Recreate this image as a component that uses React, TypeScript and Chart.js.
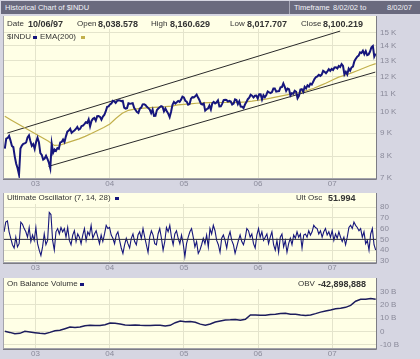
import React, { useEffect, useRef } from 'react';
import { Chart, registerables } from 'chart.js';
Chart.register(...registerables);

// ---------- DATA ----------
const YEAR_TICKS = [2003, 2004, 2005, 2006, 2007];
const YEAR_LABELS = ['03', '04', '05', '06', '07'];
const X_MIN = 2002.575;
const X_MAX = 2007.59;
const SERIES_START = 2002.586; // 8/02/02
const SERIES_END = 2007.586; // 8/02/07

// $INDU weekly closes
const PRICE_2002 = [8313, 8745, 8778, 8872, 8664, 8427, 8379, 7986, 7701, 7528, 7286, 8322, 8443, 8517, 8537, 8579, 8805, 8896, 8645, 8433, 8511, 8303];
const PRICE_2003 = [8601, 8785, 8586, 8131, 8054, 7864, 7908, 8018, 7891, 7740, 7524, 8522, 8145, 8277, 8221, 8338, 8306, 8582, 8604, 8713, 8601, 8850, 9062, 9117, 9201, 9011, 9070, 9119, 9188, 9284, 9153, 9191, 9321, 9348, 9415, 9503, 9471, 9644, 9313, 9573, 9674, 9721, 9582, 9801, 9810, 9768, 9628, 9782, 9862, 10042, 10278, 10305];
const PRICE_2004 = [10409, 10458, 10600, 10568, 10488, 10593, 10628, 10620, 10584, 10596, 10240, 10186, 10212, 10470, 10442, 10451, 10472, 10226, 10117, 10012, 9967, 10188, 10242, 10410, 10416, 10371, 10282, 10213, 10140, 9962, 10139, 9815, 9825, 10110, 10195, 10260, 10314, 10284, 10047, 10192, 10055, 9933, 9757, 10027, 10387, 10540, 10456, 10522, 10592, 10543, 10661, 10828, 10783];
const PRICE_2005 = [10603, 10558, 10392, 10427, 10716, 10796, 10785, 10841, 10940, 10774, 10629, 10442, 10404, 10461, 10087, 10157, 10193, 10345, 10140, 10471, 10542, 10460, 10512, 10623, 10297, 10303, 10449, 10640, 10651, 10641, 10558, 10600, 10559, 10397, 10447, 10679, 10641, 10420, 10569, 10292, 10287, 10215, 10402, 10530, 10686, 10766, 10931, 10877, 10778, 10875, 10883, 10718];
const PRICE_2006 = [10959, 10959, 10667, 10907, 10793, 10919, 11115, 11061, 11021, 11077, 11279, 11280, 11109, 11120, 11137, 11347, 11367, 11577, 11380, 11144, 11278, 11247, 10891, 11014, 10989, 11150, 11090, 10739, 10868, 11219, 11240, 11089, 11381, 11284, 11464, 11392, 11560, 11508, 11679, 11850, 11961, 12002, 12090, 12030, 12108, 12342, 12280, 12194, 12307, 12445, 12343, 12463];
const PRICE_2007 = [12398, 12556, 12565, 12487, 12653, 12580, 12767, 12647, 12114, 12276, 12110, 12481, 12354, 12560, 12612, 12961, 13120, 13264, 13327, 13556, 13507, 13668, 13424, 13639, 13361, 13409, 13611, 13908, 14000, 13265, 13463];

// EMA(200), monthly from Aug 2002
const EMA_START = 2002.586;
const EMA_VALUES = [9800, 9620, 9450, 9280, 9120, 8960, 8800, 8640, 8450, 8470, 8560, 8650, 8740, 8850, 8980, 9120, 9260, 9420, 9700, 9950, 10100, 10160, 10200, 10230, 10250, 10270, 10290, 10320, 10380, 10410, 10440, 10470, 10490, 10500, 10500, 10510, 10510, 10510, 10520, 10540, 10580, 10630, 10680, 10740, 10810, 10880, 10950, 11000, 11080, 11180, 11300, 11450, 11600, 11780, 11950, 12070, 12200, 12350, 12500, 12660, 12800];

// Trend channel (date, value)
const UPPER_DATES = [2002.62, 2007.107];
const UPPER_VALUES = [9000, 15100];
const LOWER_DATES = [2003.175, 2007.58];
const LOWER_VALUES = [7600, 12260];

const PRICE_TICKS = [7000, 8000, 9000, 10000, 11000, 12000, 13000, 14000, 15000];
const PRICE_TICK_LABELS = ['7 K', '8 K', '9 K', '10 K', '11 K', '12 K', '13 K', '14 K', '15 K'];

// Ultimate Oscillator (7,14,28)
const ULT_OSC = [57, 66, 67, 57, 51, 45, 42, 52, 43, 46, 66, 64, 60, 57, 52, 61, 48, 54, 49, 61, 46, 40, 35, 43, 55, 45, 49, 75, 73, 49, 40, 57, 60, 55, 61, 57, 60, 52, 61, 49, 45, 54, 58, 48, 55, 52, 46, 54, 60, 49, 57, 54, 63, 51, 55, 58, 52, 46, 54, 48, 55, 63, 60, 61, 54, 51, 46, 54, 57, 49, 42, 37, 45, 51, 46, 42, 51, 55, 48, 45, 54, 57, 51, 60, 52, 45, 38, 52, 58, 54, 46, 45, 55, 60, 51, 40, 48, 61, 57, 63, 52, 45, 55, 58, 51, 46, 54, 46, 34, 46, 52, 57, 60, 52, 43, 48, 37, 40, 45, 51, 46, 54, 43, 60, 55, 63, 58, 49, 45, 38, 51, 54, 49, 42, 52, 57, 49, 45, 37, 43, 49, 54, 48, 45, 51, 60, 58, 52, 55, 46, 42, 54, 60, 52, 57, 49, 52, 55, 46, 52, 57, 45, 40, 49, 38, 52, 55, 43, 49, 38, 46, 51, 45, 54, 51, 57, 52, 55, 42, 54, 55, 52, 58, 54, 57, 63, 61, 60, 55, 58, 52, 57, 60, 54, 57, 52, 58, 49, 55, 51, 57, 52, 48, 52, 45, 52, 61, 63, 60, 66, 63, 61, 58, 60, 52, 57, 46, 49, 40, 55, 60, 45, 40];
const OSC_MID = 50;
const OSC_TICKS = [30, 40, 50, 60, 70, 80];

// On Balance Volume (billions)
const OBV = [0.0, -0.8, -1.8, -1.5, 0.0, -0.5, -1.0, -1.5, -1.8, -0.8, 0.4, 0.8, 2.0, 3.2, 2.9, 3.2, 4.2, 4.5, 4.3, 4.3, 5.0, 6.2, 6.0, 5.5, 4.8, 4.6, 4.8, 4.5, 4.3, 4.3, 4.5, 4.5, 4.0, 4.5, 6.5, 7.7, 7.2, 7.3, 6.8, 5.4, 4.5, 5.5, 7.0, 7.8, 8.5, 8.6, 8.9, 8.3, 9.0, 12.3, 12.2, 12.0, 12.0, 12.6, 12.9, 13.3, 13.6, 12.9, 12.8, 12.3, 11.9, 12.3, 13.3, 14.4, 15.2, 16.0, 17.0, 17.4, 18.0, 19.5, 22.6, 24.0, 24.0, 24.6, 24.0];
const OBV_TICKS = [-10, 0, 10, 20, 30];
const OBV_TICK_LABELS = ['-10 B', '0', '10 B', '20 B', '30 B'];

// ---------- STYLE ----------
const FONT = "'Liberation Sans', Arial, sans-serif";
const BG = '#d6d6e2';
const PANEL = '#ffffe6';
const GRID = '#e4e4cc';
const TICK = '#8a8a9a';
const NAVY = '#16167c';
const OLIVE = '#c2b04c';

function spread(values: number[], start: number, end: number) {
  const step = (end - start) / (values.length - 1);
  return values.map((v, i) => ({ x: start + i * step, y: v }));
}
function pairs(xs: number[], ys: number[]) {
  return xs.map((x, i) => ({ x, y: ys[i] }));
}

const panelPlugin = {
  id: 'panelBg',
  beforeDraw(chart: any) {
    const { ctx, chartArea: a } = chart;
    ctx.save();
    ctx.fillStyle = PANEL;
    ctx.fillRect(a.left, a.top, a.right - a.left, a.bottom - a.top);
    ctx.restore();
  },
  afterDraw(chart: any) {
    const { ctx, chartArea: a } = chart;
    ctx.save();
    ctx.strokeStyle = '#a4a4ac';
    ctx.lineWidth = 1;
    ctx.strokeRect(a.left - 0.5, a.top - 0.5, a.right - a.left + 1, a.bottom - a.top + 1);
    ctx.strokeStyle = '#7c7c84';
    ctx.beginPath();
    ctx.moveTo(a.right + 0.5, a.top);
    ctx.lineTo(a.right + 0.5, a.bottom + 1.5);
    ctx.lineTo(a.left - 1, a.bottom + 1.5);
    ctx.stroke();
    ctx.restore();
  },
};

function xAxis() {
  return {
    type: 'linear',
    min: X_MIN,
    max: X_MAX,
    grid: { color: GRID, drawTicks: false },
    border: { display: false },
    ticks: {
      padding: 1,
      color: TICK,
      font: { family: FONT, size: 8 },
      maxRotation: 0,
      autoSkip: false,
      callback: (_v: any, i: number) => YEAR_LABELS[i],
    },
    afterBuildTicks: (s: any) => {
      s.ticks = YEAR_TICKS.map((v) => ({ value: v }));
    },
    afterFit: (s: any) => {
      s.height = 12;
      s.paddingLeft = 0;
      s.paddingRight = 0;
      s.paddingTop = 0;
      s.paddingBottom = 0;
    },
  };
}

function yAxis(type: string, min: number, max: number, ticks: number[], labels: string[]) {
  return {
    type,
    position: 'right',
    min,
    max,
    grid: { color: GRID, drawTicks: false },
    border: { display: false },
    ticks: {
      padding: 4,
      color: TICK,
      font: { family: FONT, size: 8 },
      autoSkip: false,
      callback: (_v: any, i: number) => labels[i],
    },
    afterBuildTicks: (s: any) => {
      s.ticks = ticks.map((v) => ({ value: Math.max(v, min) }));
    },
    afterFit: (s: any) => {
      s.width = 44;
      s.paddingTop = 0;
      s.paddingBottom = 0;
      s.paddingLeft = 0;
      s.paddingRight = 0;
    },
  };
}

function baseOptions(scales: any) {
  return {
    responsive: false,
    animation: false,
    devicePixelRatio: 1,
    layout: { padding: { left: 4, top: 0, right: 0, bottom: 0 } },
    plugins: { legend: { display: false }, tooltip: { enabled: false } },
    elements: { point: { radius: 0 }, line: { tension: 0 } },
    scales,
  };
}

function mainConfig(): any {
  const price = [...PRICE_2002, ...PRICE_2003, ...PRICE_2004, ...PRICE_2005, ...PRICE_2006, ...PRICE_2007];
  const emaEnd = EMA_START + (EMA_VALUES.length - 1) / 12;
  return {
    type: 'line',
    data: {
      datasets: [
        { data: spread(price, SERIES_START, SERIES_END), borderColor: NAVY, borderWidth: 2 },
        { data: spread(EMA_VALUES, EMA_START, emaEnd), borderColor: OLIVE, borderWidth: 1.2 },
        { data: pairs(UPPER_DATES, UPPER_VALUES), borderColor: '#2a2a2a', borderWidth: 1 },
        { data: pairs(LOWER_DATES, LOWER_VALUES), borderColor: '#2a2a2a', borderWidth: 1 },
      ],
    },
    options: baseOptions({ x: xAxis(), y: yAxis('logarithmic', 7164, 16300, PRICE_TICKS, PRICE_TICK_LABELS) }),
    plugins: [panelPlugin],
  };
}

function oscConfig(): any {
  return {
    type: 'line',
    data: {
      datasets: [
        { data: pairs([X_MIN, X_MAX], [OSC_MID, OSC_MID]), borderColor: '#2c2c3c', borderWidth: 1 },
        { data: spread(ULT_OSC, SERIES_START - 0.01, SERIES_END), borderColor: NAVY, borderWidth: 1.1 },
      ],
    },
    options: baseOptions({ x: xAxis(), y: yAxis('linear', 29, 93, OSC_TICKS, OSC_TICKS.map(String)) }),
    plugins: [panelPlugin],
  };
}

function obvConfig(): any {
  return {
    type: 'line',
    data: {
      datasets: [{ data: spread(OBV, SERIES_START, SERIES_END), borderColor: '#1c1c5c', borderWidth: 1.5 }],
    },
    options: baseOptions({ x: xAxis(), y: yAxis('linear', -12.5, 40, OBV_TICKS, OBV_TICK_LABELS) }),
    plugins: [panelPlugin],
  };
}

function ChartCanvas({ top, height, make }: { top: number; height: number; make: () => any }) {
  const ref = useRef<HTMLCanvasElement | null>(null);
  useEffect(() => {
    const chart = new Chart(ref.current as HTMLCanvasElement, make());
    return () => chart.destroy();
  }, []);
  return (
    <canvas
      ref={ref}
      width={420}
      height={height}
      style={{ position: 'absolute', left: 0, top, width: 420, height, display: 'block' }}
    />
  );
}

function T({ x, y, children, bold, color, size }: any) {
  return (
    <span
      style={{
        position: 'absolute',
        left: x,
        top: y - 6,
        lineHeight: '12px',
        fontSize: size ?? 8,
        fontWeight: bold ? 'bold' : 'normal',
        color: color ?? '#333',
        whiteSpace: 'nowrap',
        fontFamily: FONT,
      }}
    >
      {children}
    </span>
  );
}

function Box({ x, y, w, h, bg }: any) {
  return <div style={{ position: 'absolute', left: x, top: y, width: w, height: h, background: bg }} />;
}

export default function App() {
  return (
    <div
      style={{
        position: 'fixed',
        left: 0,
        top: 0,
        width: 420,
        height: 359,
        overflow: 'hidden',
        background: BG,
        fontFamily: FONT,
      }}
    >
      {/* title bar */}
      <Box x={1} y={1} w={419} h={13} bg="#6a6a7e" />
      <Box x={289} y={1} w={1} h={13} bg="#a8a8b8" />
      <T x={5} y={8} color="#f2f2f8" size={7.5}>Historical Chart of $INDU</T>
      <T x={294} y={8} color="#f2f2f8" size={7.5}>Timeframe</T>
      <T x={333} y={8} color="#f2f2f8" size={7.5}>8/02/02 to</T>
      <T x={387} y={8} color="#f2f2f8" size={7.5}>8/02/07</T>

      <ChartCanvas top={16} height={174} make={mainConfig} />
      <ChartCanvas top={193} height={81} make={oscConfig} />
      <ChartCanvas top={278} height={82} make={obvConfig} />

      {/* main panel header */}
      <Box x={4} y={16} w={372} h={13} bg={PANEL} />
      <T x={7} y={24}>Date</T>
      <T x={28} y={24} bold size={9}>10/06/97</T>
      <T x={77} y={24}>Open</T>
      <T x={98} y={24} bold size={9}>8,038.578</T>
      <T x={151} y={24}>High</T>
      <T x={170} y={24} bold size={9}>8,160.629</T>
      <T x={230} y={24}>Low</T>
      <T x={247} y={24} bold size={9}>8,017.707</T>
      <T x={301} y={24}>Close</T>
      <T x={323} y={24} bold size={9}>8,100.219</T>
      <T x={7} y={37}>$INDU</T>
      <Box x={33} y={36} w={4} h={3} bg={NAVY} />
      <T x={40} y={37}>EMA(200)</T>
      <Box x={81} y={36} w={4} h={3} bg={OLIVE} />

      {/* oscillator header */}
      <Box x={4} y={193} w={372} h={11} bg={PANEL} />
      <T x={7} y={198}>Ultimate Oscillator (7, 14, 28)</T>
      <Box x={115} y={197} w={4} h={3} bg={NAVY} />
      <T x={296} y={198}>Ult Osc</T>
      <T x={328} y={198} bold size={9}>51.994</T>

      {/* OBV header */}
      <Box x={4} y={278} w={372} h={11} bg={PANEL} />
      <T x={7} y={284}>On Balance Volume</T>
      <Box x={80} y={283} w={4} h={3} bg={NAVY} />
      <T x={298} y={284}>OBV</T>
      <T x={318} y={284} bold size={9}>-42,898,888</T>
    </div>
  );
}
